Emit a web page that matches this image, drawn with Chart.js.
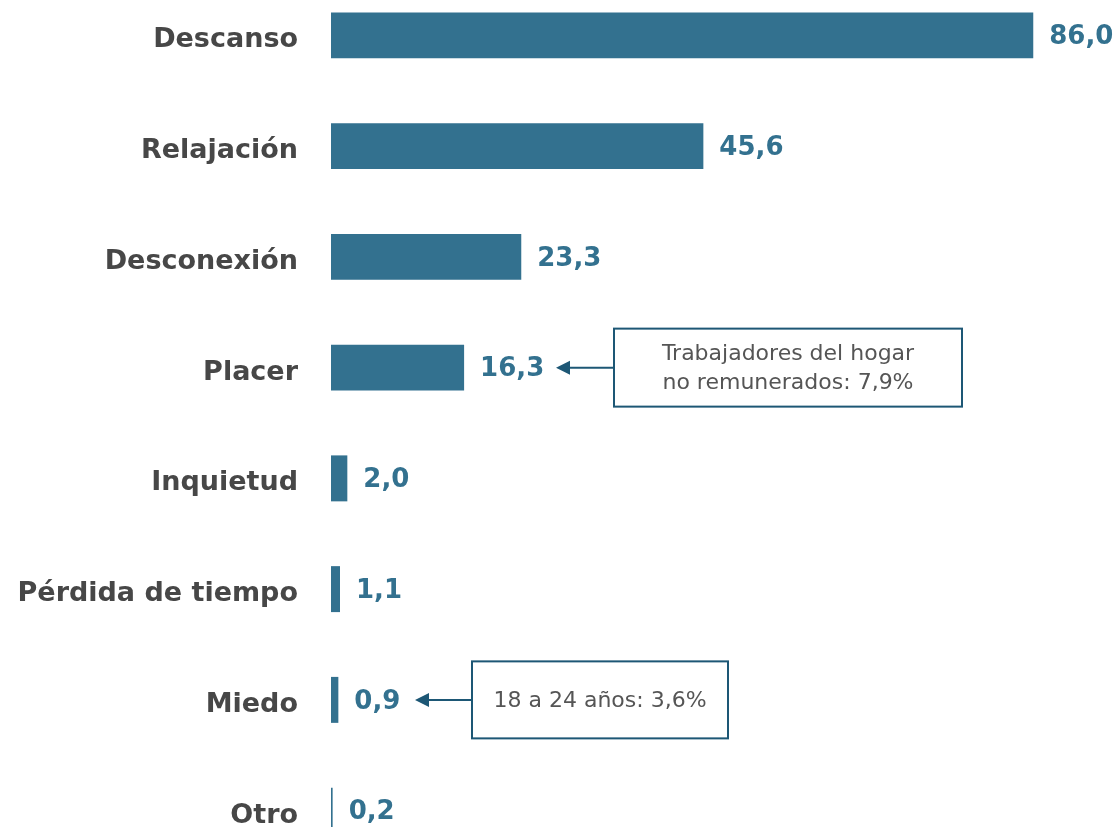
<!DOCTYPE html>
<html>
<head>
<meta charset="utf-8">
<script src="https://cdn.jsdelivr.net/npm/chart.js@4.4.1/dist/chart.umd.min.js"></script>
<style>
  html, body { margin: 0; padding: 0; background: #fff; overflow: hidden; width: 1119px; height: 827px; }
  #chart { position: absolute; left: 0; top: -20px; }
</style>
</head>
<body>
<canvas id="chart" width="1119" height="886"></canvas>
<script>
// Datos
const categorias = ['Descanso', 'Relajación', 'Desconexión', 'Placer', 'Inquietud', 'Pérdida de tiempo', 'Miedo', 'Otro'];
const valores = [86.0, 45.6, 23.3, 16.3, 2.0, 1.1, 0.9, 0.2];

// Notas al margen (índice de la categoría a la que apuntan)
const notas = [
    { idx: 3, lineas: ['Trabajadores del hogar', 'no remunerados: 7,9%'] },
    { idx: 6, lineas: ['18 a 24 años: 3,6%'] }
];

const azul = '#33718f';
const azulOscuro = '#1d5775';

function fmt(v) {
    return v.toFixed(1).replace('.', ',');
}

// Etiquetas de valor y cajas de nota
const etiquetas = {
    id: 'etiquetas',
    afterDatasetsDraw(chart) {
        const ctx = chart.ctx;
        const meta = chart.getDatasetMeta(0);
        const y = chart.scales.y;
        ctx.save();
        ctx.font = 'bold 26px "DejaVu Sans"';
        ctx.fillStyle = azul;
        ctx.textBaseline = 'middle';
        ctx.textAlign = 'left';
        meta.data.forEach((bar, i) => {
            ctx.fillText(fmt(valores[i]), bar.x + 16, bar.y + 2);
        });

        // cajas (posición fija, como en el original)
        const cajas = [
            { left: 614, right: 962, h: 78, punta: 556 },
            { left: 472, right: 728, h: 77, punta: 415 }
        ];
        notas.forEach((n, k) => {
            const cy = y.getPixelForValue(n.idx);
            const c = cajas[k];
            const top = cy - c.h / 2;
            ctx.strokeStyle = azulOscuro;
            ctx.lineWidth = 2;
            ctx.strokeRect(c.left, top, c.right - c.left, c.h);
            // flecha
            ctx.beginPath();
            ctx.moveTo(c.left, cy);
            ctx.lineTo(c.punta + 10, cy);
            ctx.stroke();
            ctx.fillStyle = azulOscuro;
            ctx.beginPath();
            ctx.moveTo(c.punta, cy);
            ctx.lineTo(c.punta + 14, cy - 7);
            ctx.lineTo(c.punta + 14, cy + 7);
            ctx.closePath();
            ctx.fill();
            // texto
            ctx.fillStyle = '#555';
            ctx.font = '22px "DejaVu Sans"';
            ctx.textAlign = 'center';
            const cx = (c.left + c.right) / 2;
            const lh = 29;
            n.lineas.forEach((l, j) => {
                ctx.fillText(l, cx, cy + 1 + (j - (n.lineas.length - 1) / 2) * lh);
            });
            ctx.textAlign = 'left';
        });
        ctx.restore();
    }
};

new Chart(document.getElementById('chart'), {
    type: 'bar',
    data: {
        labels: categorias,
        datasets: [{
            data: valores,
            backgroundColor: azul,
            borderWidth: 0,
            barPercentage: 0.83,
            categoryPercentage: 0.5
        }]
    },
    options: {
        indexAxis: 'y',
        responsive: false,
        animation: false,
        layout: { padding: 0 },
        scales: {
            x: {
                display: false,
                min: 0,
                max: 96.5
            },
            y: {
                afterFit(scale) {
                    scale.width = 331;
                    scale.paddingTop = 0;
                    scale.paddingBottom = 0;
                },
                grid: { display: false },
                border: { display: false },
                ticks: {
                    padding: 25,
                    labelOffset: 5,
                    color: '#474747',
                    font: { family: '"DejaVu Sans"', size: 27, weight: 'bold' }
                }
            }
        },
        plugins: {
            legend: { display: false },
            tooltip: { enabled: false }
        }
    },
    plugins: [etiquetas]
});
</script>
</body>
</html>
